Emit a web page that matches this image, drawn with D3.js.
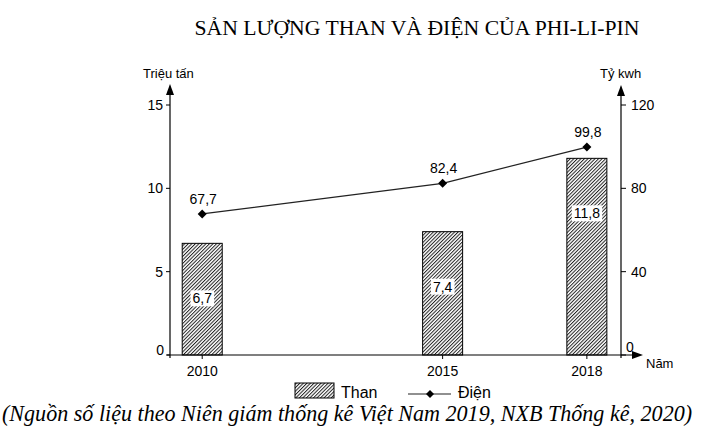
<!DOCTYPE html>
<html><head><meta charset="utf-8">
<script src="https://cdn.jsdelivr.net/npm/d3@7"></script>
<style>
html,body{margin:0;padding:0;background:#fff;}
svg{display:block;}
text{font-family:"Liberation Sans",Arial,sans-serif;fill:#000;}
</style></head>
<body>
<svg id="chart" width="701" height="433"></svg>
<script>
const years = [2010, 2015, 2018];
const coal = [6.7, 7.4, 11.8];          // Than (triệu tấn)
const power = [67.7, 82.4, 99.8];       // Điện (tỷ kWh)
const leftTicks = [0, 5, 10, 15];
const rightTicks = [0, 40, 80, 120];
const title = "SẢN LƯỢNG THAN VÀ ĐIỆN CỦA PHI-LI-PIN";
const source = "(Nguồn số liệu theo Niên giám thống kê Việt Nam 2019, NXB Thống kê, 2020)";
const fmt = v => String(v).replace(".", ",");

const svg = d3.select("#chart");
const x = d3.scaleLinear().domain([2009.33, 2018.71]).range([170, 621]);
const yL = d3.scaleLinear().domain([0, 15]).range([355, 105]);
const yR = d3.scaleLinear().domain([0, 120]).range([355, 105]);
const x0 = x.range()[0], x1 = x.range()[1], yb = yL(0);

// hatch pattern
const defs = svg.append("defs");
const pw = 2.5;
const pat = defs.append("pattern").attr("id", "hatch").attr("patternUnits", "userSpaceOnUse")
  .attr("width", pw).attr("height", pw).attr("patternTransform", "rotate(45)");
pat.append("rect").attr("width", pw).attr("height", pw).attr("fill", "#fff");
pat.append("line").attr("x1", 0.5).attr("y1", 0).attr("x2", 0.5).attr("y2", pw)
  .attr("stroke", "#222").attr("stroke-width", 1);

// Title
const t = svg.append("text").attr("x", 417).attr("y", 35).attr("text-anchor", "middle")
  .style("font-family", "'Liberation Serif','Times New Roman',serif").style("font-size", "20px").text(title);
{ const w = t.node().getComputedTextLength(); t.style("font-size", (20 * 445 / w).toFixed(2) + "px"); }

// Bars
const bw = 40;
svg.selectAll("rect.bar").data(years).join("rect").attr("class", "bar")
  .attr("x", d => x(d) - bw / 2).attr("y", (d, i) => yL(coal[i]))
  .attr("width", bw).attr("height", (d, i) => yb - yL(coal[i]))
  .attr("fill", "url(#hatch)").attr("stroke", "#000").attr("stroke-width", 1);

// Bar labels with white boxes
const bl = svg.selectAll("g.blab").data(years).join("g").attr("class", "blab")
  .attr("transform", (d, i) => `translate(${x(d)},${yL(coal[i]) + 55})`);
bl.each(function (d, i) {
  const g = d3.select(this);
  const txt = g.append("text").attr("text-anchor", "middle").attr("dy", "0.36em")
    .style("font-size", "14px").text(fmt(coal[i]));
  const bb = txt.node().getBBox();
  g.insert("rect", "text").attr("x", bb.x - 2).attr("y", -8).attr("width", bb.width + 4).attr("height", 16)
    .attr("fill", "#fff");
});

// Axes lines
const axis = svg.append("g").attr("stroke", "#000").attr("stroke-width", 1.2).attr("fill", "none");
axis.append("line").attr("x1", x0).attr("x2", x0).attr("y1", yb + 3).attr("y2", 90);
axis.append("line").attr("x1", x1).attr("x2", x1).attr("y1", yb + 3).attr("y2", 90);
axis.append("line").attr("x1", x0 - 3).attr("x2", 637).attr("y1", yb).attr("y2", yb);
// arrows
svg.append("path").attr("d", `M${x0},84 L${x0 - 4},95 L${x0 + 4},95 Z`).attr("fill", "#000");
svg.append("path").attr("d", `M${x1},85 L${x1 - 4},96 L${x1 + 4},96 Z`).attr("fill", "#000");
svg.append("path").attr("d", `M643,${yb} L632,${yb - 4} L632,${yb + 4} Z`).attr("fill", "#000");

// Left ticks
const lt = svg.append("g");
lt.selectAll("line").data(leftTicks).join("line").attr("x1", x0 - 4).attr("x2", x0)
  .attr("y1", d => yL(d)).attr("y2", d => yL(d)).attr("stroke", "#000");
lt.selectAll("text").data(leftTicks).join("text").attr("x", d => d === 0 ? 164 : 163)
  .attr("y", d => yL(d) - (d === 0 ? 5 : 0)).attr("dy", "0.36em").attr("text-anchor", "end")
  .style("font-size", "14px").text(d => d);

// Right ticks
const rt = svg.append("g");
rt.selectAll("line").data(rightTicks).join("line").attr("x1", x1).attr("x2", x1 + 5)
  .attr("y1", d => yR(d)).attr("y2", d => yR(d)).attr("stroke", "#000");
rt.selectAll("text").data(rightTicks).join("text").attr("x", d => d === 0 ? 626 : 631)
  .attr("y", d => yR(d) - (d === 0 ? 8 : 0)).attr("dy", "0.36em").attr("text-anchor", "start")
  .style("font-size", "14px").text(d => d);

// X ticks
const xt = svg.append("g");
xt.selectAll("line").data(years).join("line").attr("x1", d => x(d)).attr("x2", d => x(d))
  .attr("y1", yb).attr("y2", yb + 4).attr("stroke", "#000");
xt.selectAll("text").data(years).join("text").attr("x", d => x(d)).attr("y", 376)
  .attr("text-anchor", "middle").style("font-size", "14px").text(d => d);

// Axis titles
svg.append("text").attr("x", 143).attr("y", 78).style("font-size", "13px").text("Triệu tấn");
svg.append("text").attr("x", 600).attr("y", 78).style("font-size", "13px").text("Tỷ kwh");
svg.append("text").attr("x", 646).attr("y", 368).style("font-size", "13px").text("Năm");

// Line
const diamond = (cx, cy, r) => `M${cx},${cy - r}L${cx + r},${cy}L${cx},${cy + r}L${cx - r},${cy}Z`;
svg.append("path").datum(years).attr("fill", "none").attr("stroke", "#222").attr("stroke-width", 1.2)
  .attr("d", d3.line().x(d => x(d)).y((d, i) => yR(power[i])));
svg.selectAll("path.pt").data(years).join("path").attr("class", "pt")
  .attr("d", (d, i) => diamond(x(d), yR(power[i]), 4.5)).attr("fill", "#000");
svg.selectAll("text.pl").data(years).join("text").attr("class", "pl")
  .attr("x", d => x(d) + 1).attr("y", (d, i) => yR(power[i]) - 10).attr("text-anchor", "middle")
  .style("font-size", "14px").text((d, i) => fmt(power[i]));

// Legend
svg.append("rect").attr("x", 295).attr("y", 383).attr("width", 39).attr("height", 15)
  .attr("fill", "url(#hatch)").attr("stroke", "#000");
svg.append("text").attr("x", 341).attr("y", 398).style("font-size", "16px").text("Than");
svg.append("line").attr("x1", 408).attr("x2", 451).attr("y1", 394).attr("y2", 394).attr("stroke", "#222").attr("stroke-width", 1.2);
svg.append("path").attr("d", diamond(430, 394, 4)).attr("fill", "#000");
svg.append("text").attr("x", 458).attr("y", 398).style("font-size", "16px").text("Điện");

// Source
const s = svg.append("text").attr("x", 2).attr("y", 421)
  .style("font-family", "'Liberation Serif','Times New Roman',serif").style("font-style", "italic")
  .style("font-size", "20px").text(source);
{ const w = s.node().getComputedTextLength(); s.style("font-size", (20 * 690 / w).toFixed(2) + "px"); }
</script>
</body></html>
